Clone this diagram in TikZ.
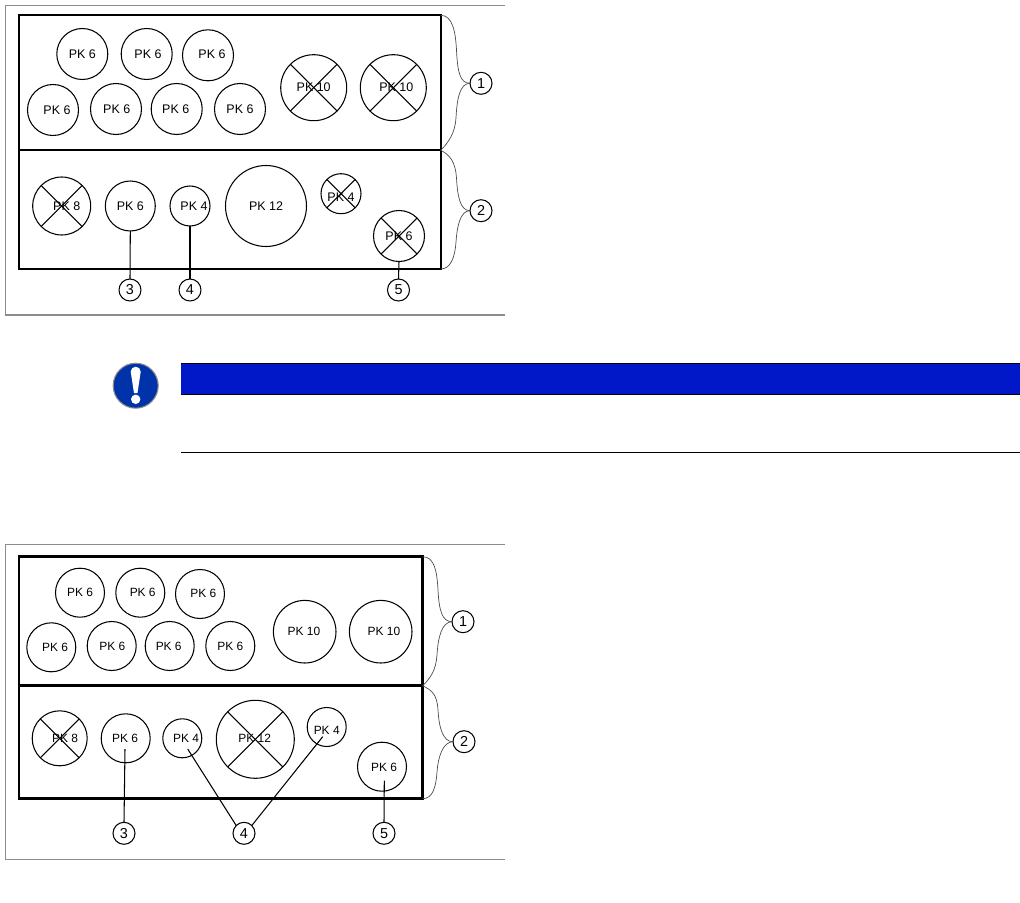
\documentclass[tikz,border=0pt]{standalone}
\usepackage{fontspec}
\setsansfont{Liberation Sans}
\newlength\pxu
\setlength\pxu{0.02cm}
\definecolor{barblue}{HTML}{0018C8}
\definecolor{signblue}{HTML}{0033AA}
\tikzset{
  pk/.style={circle,draw,line width=0.6pt,inner sep=0pt,outer sep=0pt,minimum size=#1*\pxu},
  crossed/.style={path picture={
    \draw[line width=0.6pt] (path picture bounding box.north west) -- (path picture bounding box.south east);
    \draw[line width=0.6pt] (path picture bounding box.south west) -- (path picture bounding box.north east);}},
  off/.style 2 args={xshift=#1*\pxu,yshift=-#2*\pxu},
  callout/.style={circle,draw,line width=0.6pt,inner sep=0pt,outer sep=0pt,minimum size=22*\pxu,
    font=\sffamily\fontsize{8.2}{9}\selectfont},
  panel/.style={rectangle,draw,inner sep=0pt,outer sep=0pt},
  leader/.style={line width=0.6pt},
  brace/.style={line width=0.4pt,black!70},
  frameline/.style={line width=0.6pt,black!45}
}
\begin{document}
\begin{tikzpicture}[x=0.02cm,y=-0.02cm]
\useasboundingbox (0,0) rectangle (1020,902);
% upper drawing
\draw[frameline] (505,5.3) -- (5.3,5.3) -- (5.3,315) -- (505,315);
\node[panel,line width=1pt,minimum width=421.7*\pxu,minimum height=135*\pxu] (up1) at (229.85,82.8) {};
\node[panel,line width=1pt,minimum width=421.7*\pxu,minimum height=118.7*\pxu] (low1) at (229.85,209.65) {};
\begin{scope}[every label/.style={font=\sffamily\fontsize{7.1}{8}\selectfont}]
\node[pk=51,label={[off={0}{0}]center:PK 6}] (a1) at (82.3,54) {};
\node[pk=51,label={[off={1.3}{0}]center:PK 6}] (a2) at (146.7,54) {};
\node[pk=51,label={[off={4}{-1}]center:PK 6}] (a3) at (208,55.3) {};
\node[pk=51,label={[off={4}{0}]center:PK 6}] (b1) at (53,110) {};
\node[pk=51,label={[off={0.7}{0}]center:PK 6}] (b2) at (116,109) {};
\node[pk=51,label={[off={-1}{0}]center:PK 6}] (b3) at (176.7,109) {};
\node[pk=51,label={[off={0}{0}]center:PK 6}] (b4) at (240,109) {};
\node[pk=66,crossed,label={[off={0}{0}]center:PK 10}] (e1) at (313.7,87.7) {};
\node[pk=66,crossed,label={[off={3}{0}]center:PK 10}] (e2) at (393.3,87.7) {};
\node[pk=58,crossed,label={[off={5}{0}]center:PK 8}] (d1) at (61.7,206) {};
\node[pk=50,label={[off={0}{0}]center:PK 6}] (d2) at (130.3,206) {};
\node[pk=40,label={[off={4}{0}]center:PK 4}] (d3) at (190,206) {};
\node[pk=81,label={[off={0}{0}]center:PK 12}] (d4) at (266,206) {};
\node[pk=40,crossed,label={[off={0}{3.5}]center:PK 4}] (d5) at (341,193.7) {};
\node[pk=51,crossed,label={[off={0}{0.7}]center:PK 6}] (d6) at (399,236) {};
\end{scope}
\node[callout] (c1) at (481,83.3) {1};
\node[callout] (c2) at (481,210.7) {2};
\node[callout] (c3) at (130,290) {3};
\node[callout] (c4) at (190,290) {4};
\node[callout] (c5) at (398.5,290) {5};
\draw[leader] (d2.south) -- (c3.north);
\draw[leader] (d3.south) -- (c4.north);
\draw[leader] (d6.south) -- (c5.north);
\draw[brace] (up1.north east) .. controls +(12,0) and +(-1,-18) .. (456.5,50)
  .. controls +(1,22) and +(-10,0) .. (c1.west);
\draw[brace] (c1.west) .. controls +(-10,0) and +(1,-20) .. (456,118)
  .. controls +(-1,15) and +(8,-8) .. (up1.south east);
\draw[brace] (up1.south east) .. controls +(10,5) and +(-1,-15) .. (456.5,178)
  .. controls +(1,18) and +(-10,0) .. (c2.west);
\draw[brace] (c2.west) .. controls +(-10,0) and +(1,-15) .. (456,242)
  .. controls +(-1,15) and +(10,0) .. (low1.south east);
% notice
\node[circle,fill=signblue,draw=black!45,line width=0.6pt,inner sep=0pt,minimum size=45*\pxu] (sign) at (135.7,385.7) {};
\fill[white] (130.7,371.7) arc[start angle=180,end angle=360,radius=5] -- (137.5,393) -- (134,393) -- cycle;
\fill[white] (135.7,399.3) circle[radius=4.7];
\node[rectangle,fill=barblue,inner sep=0pt,outer sep=0pt,minimum width=839*\pxu,minimum height=31*\pxu] (bar) at (600.5,379) {};
\draw[line width=0.6pt] (bar.north west) -- (bar.north east);
\draw[line width=0.6pt] (bar.south west) -- (bar.south east);
\draw[line width=0.6pt] (181,452.5) -- (1020,452.5);
% lower drawing
\draw[frameline] (505,544.7) -- (5.3,544.7) -- (5.3,859.3) -- (505,859.3);
\node[panel,line width=1.4pt,minimum width=403.7*\pxu,minimum height=129*\pxu] (up2) at (220.85,621.2) {};
\node[panel,line width=1.4pt,minimum width=403.7*\pxu,minimum height=113*\pxu] (low2) at (220.85,742.2) {};
\begin{scope}[every label/.style={font=\sffamily\fontsize{6.8}{8}\selectfont}]
\node[pk=49,label={[off={0}{0}]center:PK 6}] (f1) at (80,592.7) {};
\node[pk=49,label={[off={2.4}{0}]center:PK 6}] (f2) at (140.3,592.7) {};
\node[pk=49,label={[off={3.3}{-1}]center:PK 6}] (f3) at (200,594) {};
\node[pk=49,label={[off={3.7}{0}]center:PK 6}] (g1) at (51.3,647.3) {};
\node[pk=49,label={[off={0.6}{0}]center:PK 6}] (g2) at (111.7,646) {};
\node[pk=49,label={[off={-1}{0}]center:PK 6}] (g3) at (169.7,646) {};
\node[pk=49,label={[off={0}{0}]center:PK 6}] (g4) at (230.3,646) {};
\node[pk=62.6,label={[off={-0.7}{0}]center:PK 10}] (h1) at (304.7,631.7) {};
\node[pk=62.6,label={[off={3.3}{0}]center:PK 10}] (h2) at (380.7,631.7) {};
\node[pk=55,crossed,label={[off={5.3}{0}]center:PK 8}] (j1) at (59.7,738.3) {};
\node[pk=49,label={[off={-0.7}{0}]center:PK 6}] (j2) at (125.7,738.3) {};
\node[pk=39,label={[off={3.7}{0}]center:PK 4}] (j3) at (182.3,738.3) {};
\node[pk=78,crossed,label={[off={-0.6}{-1.3}]center:PK 12}] (j4) at (255.3,739.3) {};
\node[pk=39,label={[off={0}{3.3}]center:PK 4}] (j5) at (326.7,727) {};
\node[pk=49,label={[off={2}{0.7}]center:PK 6}] (j6) at (382,766.7) {};
\end{scope}
\node[callout] (k1) at (463,621.7) {1};
\node[callout] (k2) at (464,741.7) {2};
\node[callout] (k3) at (124,833.3) {3};
\node[callout] (k4) at (244,833.3) {4};
\node[callout] (k5) at (384,833.3) {5};
\coordinate (s3) at (125,749);
\coordinate (s4) at (187.7,749);
\coordinate (t4) at (322.7,736.7);
\coordinate (s5) at (384.3,780.7);
\draw[leader] (s3) -- (k3.north);
\draw[leader] (s4) -- (k4.north west);
\draw[leader] (t4) -- (k4.north east);
\draw[leader] (s5) -- (k5.north);
\draw[brace] (up2.north east) .. controls +(12,0) and +(-1,-18) .. (438,590)
  .. controls +(1,20) and +(-10,0) .. (k1.west);
\draw[brace] (k1.west) .. controls +(-10,0) and +(1,-18) .. (437,655)
  .. controls +(-1,15) and +(8,-8) .. (up2.south east);
\draw[brace] (up2.south east) .. controls +(10,5) and +(-1,-15) .. (438,710)
  .. controls +(1,18) and +(-10,0) .. (k2.west);
\draw[brace] (k2.west) .. controls +(-10,0) and +(1,-15) .. (437,772)
  .. controls +(-1,15) and +(10,0) .. (low2.south east);
\end{tikzpicture}
\end{document}
